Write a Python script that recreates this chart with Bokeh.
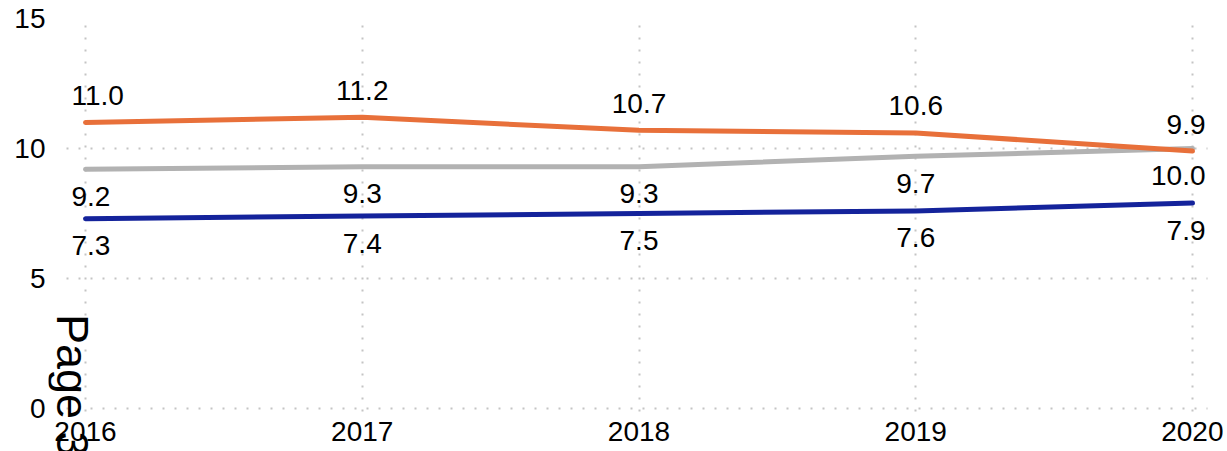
import math
from bokeh.plotting import figure
from bokeh.models import Range1d, FixedTicker, Label, ColumnDataSource
from bokeh.embed import file_html
from bokeh.resources import INLINE
from bokeh.core.properties import value

years = [2016, 2017, 2018, 2019, 2020]
orange_vals = [11.0, 11.2, 10.7, 10.6, 9.9]
gray_vals = [9.2, 9.3, 9.3, 9.7, 10.0]
blue_vals = [7.3, 7.4, 7.5, 7.6, 7.9]
y_ticks = [0, 5, 10, 15]
page_note = "Page 3"

FONT = "Liberation Sans"
FS = "28px"

X0, X1 = 2015.931, 2020.054

p = figure(frame_width=1175, frame_height=433, output_backend="svg", toolbar_location=None,
           x_range=Range1d(2015.8663, 2020.112), y_range=Range1d(-1.654, 15),
           min_border_left=48, min_border_right=0, min_border_top=18, min_border_bottom=0)
p.outline_line_color = None
p.background_fill_color = "white"

for ax in (p.xaxis[0], p.yaxis[0]):
    ax.axis_line_color = None
    ax.major_tick_line_color = None
    ax.minor_tick_line_color = None
    ax.major_tick_out = 0
    ax.major_tick_in = 0
    ax.major_label_text_font = FONT
    ax.major_label_text_font_size = FS
    ax.major_label_text_color = "black"

p.xaxis[0].ticker = FixedTicker(ticks=years)
p.xaxis[0].fixed_location = 0
p.yaxis[0].ticker = FixedTicker(ticks=y_ticks)
p.xaxis[0].major_label_standoff = 14
p.yaxis[0].major_label_standoff = 3

for g in (p.xgrid[0], p.ygrid[0]):
    g.grid_line_color = "#c4c4c4"
    g.grid_line_dash = "2 10"
    g.grid_line_width = 2
p.xgrid[0].ticker = FixedTicker(ticks=years)
p.ygrid[0].ticker = FixedTicker(ticks=y_ticks)
p.ygrid[0].cross_bounds = (X0, X1)
p.xgrid[0].cross_bounds = (-0.1, 15)

series = [
    (blue_vals, "#14239b", 27),
    (gray_vals, "#b2b2b2", 27),
    (orange_vals, "#e8703a", -27),
]
aligns = ["left", "center", "center", "center", "right"]
xoffs = [-14, 0, 0, 0, 13]
for vals, color, yoff in series:
    p.line(years, vals, line_color=color, line_width=5, line_cap="round", line_join="round")
for vals, color, yoff in series:
    src = ColumnDataSource(dict(x=years, y=vals, t=["%.1f" % v for v in vals],
                                a=aligns, xo=xoffs))
    p.text(x="x", y="y", text="t", source=src, text_align="a", x_offset="xo",
           y_offset=yoff, text_baseline="middle", text_font=value(FONT),
           text_font_size=FS, text_color="black")

p.add_layout(Label(x=2015.953, y=3.635, text=page_note, angle=-math.pi / 2,
                   text_font=FONT, text_font_size="45px", text_align="left",
                   text_baseline="middle", text_color="black"))

open("out.html", "w").write(file_html(p, INLINE))
